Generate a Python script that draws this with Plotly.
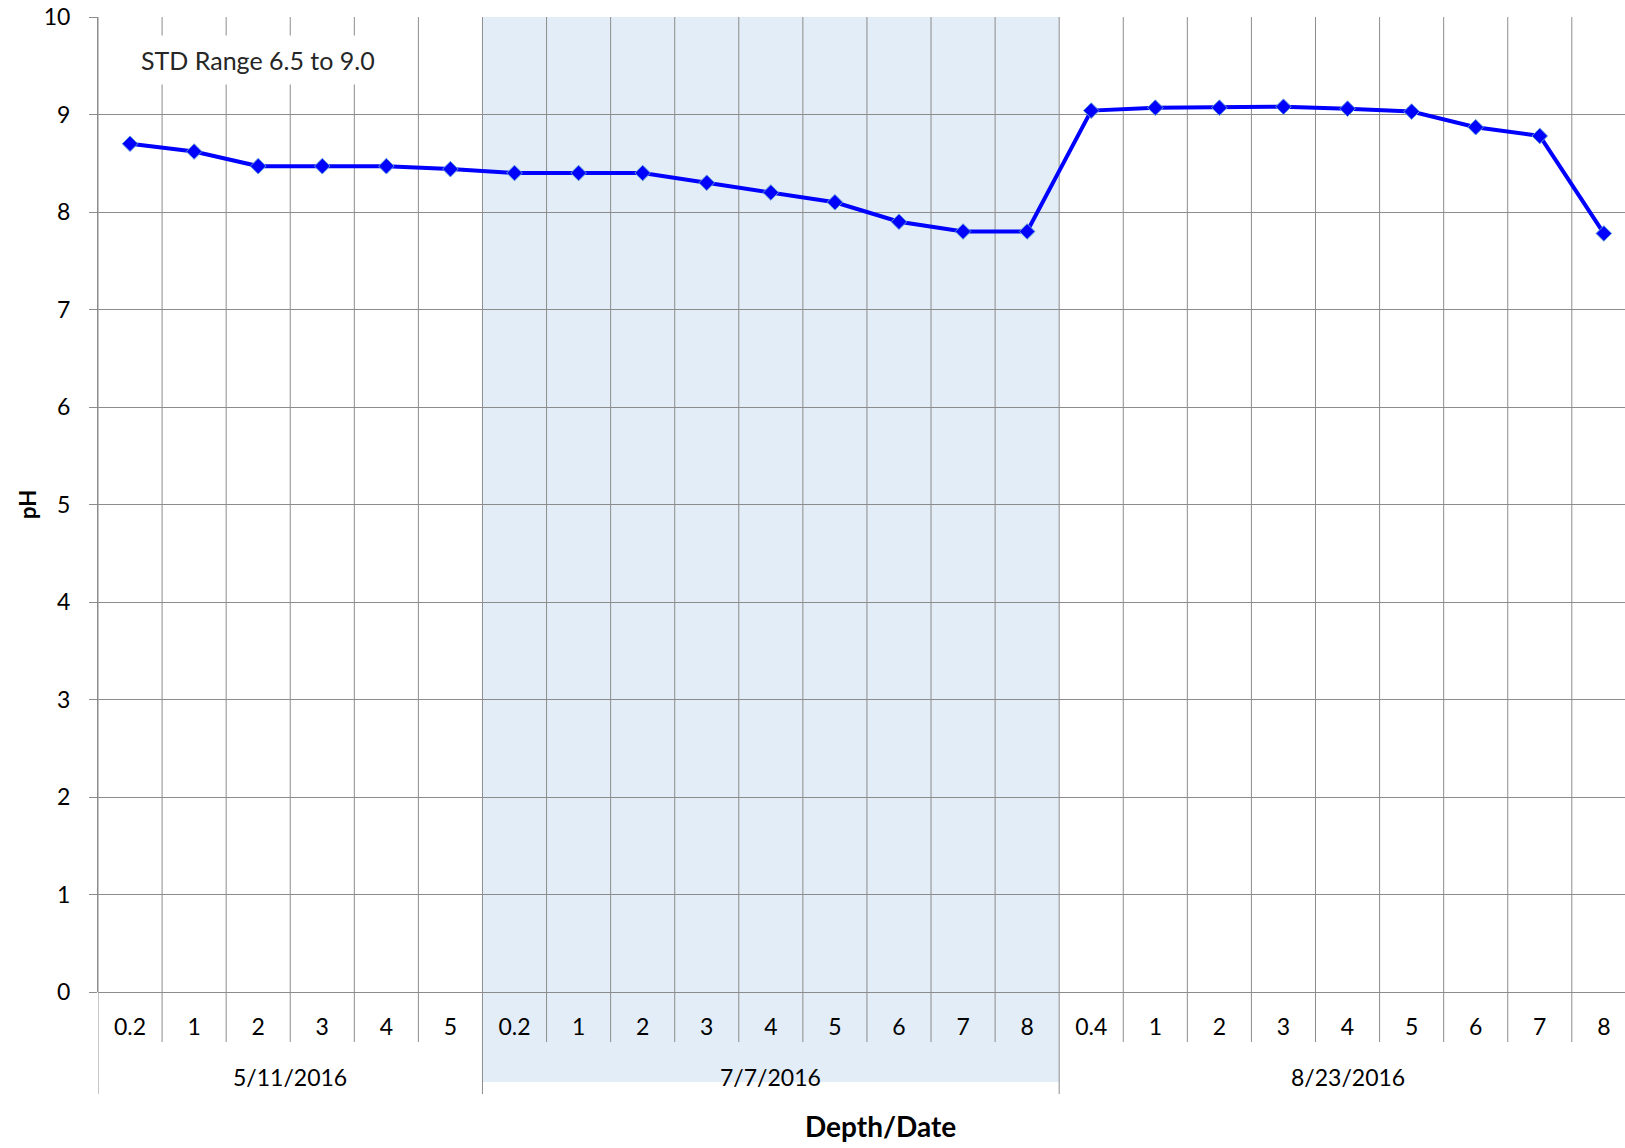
import plotly.graph_objects as go

# ---- data ----
dates = ["5/11/2016", "7/7/2016", "8/23/2016"]
depths_511 = ["0.2", "1", "2", "3", "4", "5"]
depths_77 = ["0.2", "1", "2", "3", "4", "5", "6", "7", "8"]
depths_823 = ["0.4", "1", "2", "3", "4", "5", "6", "7", "8"]
ph_511 = [8.70, 8.62, 8.47, 8.47, 8.47, 8.44]
ph_77 = [8.40, 8.40, 8.40, 8.30, 8.20, 8.10, 7.90, 7.80, 7.80]
ph_823 = [9.04, 9.07, 9.07, 9.08, 9.06, 9.03, 8.87, 8.78, 7.78]
y_ticks = list(range(0, 11))
std_label = "STD Range 6.5 to 9.0"

groups = [depths_511, depths_77, depths_823]
values = ph_511 + ph_77 + ph_823
labels = depths_511 + depths_77 + depths_823
xs = list(range(len(values)))

GRID = "#8c8c8c"
SHADE = "#e3edf7"
FONT = "Lato"

W, H = 1625, 1148
L, R, T, B = 98, 0, 17, 156
plot_h = H - T - B
plot_w = W - L - R

def py(px):
    """pixel offset below the plot bottom -> paper y"""
    return -px / plot_h

fig = go.Figure()
fig.add_trace(go.Scatter(
    x=xs, y=values, mode="lines+markers",
    line=dict(color="#0000ff", width=4),
    marker=dict(symbol="diamond", size=12, color="#0000ff",
                line=dict(color="#5b9bd5", width=1)),
    showlegend=False, hoverinfo="x+y",
))

shapes = []
starts = [0]
for g in groups:
    starts.append(starts[-1] + len(g))
# shaded middle group
shapes.append(dict(type="rect", xref="x", yref="paper",
                   x0=starts[1] - 0.5, x1=starts[2] - 0.5,
                   y0=py(90), y1=1, fillcolor=SHADE, line_width=0, layer="below"))
# vertical grid lines at each category boundary
for b in range(len(values) + 1):
    xb = b - 0.5
    is_group = b in starts
    shapes.append(dict(type="line", xref="x", yref="paper",
                       x0=xb, x1=xb, y0=py(102 if is_group else 50), y1=1,
                       line=dict(color=GRID, width=1), layer="below"))

annotations = []
for d, g, s in zip(dates, groups, starts):
    annotations.append(dict(text=d, xref="x", yref="paper",
                            x=s + (len(g) - 1) / 2, y=py(85), yanchor="middle",
                            showarrow=False, font=dict(family=FONT, size=23, color="#000")))
annotations.append(dict(text="<b>Depth/Date</b>", xref="paper", yref="paper",
                        x=(880 - L) / plot_w, y=py(134), xanchor="center", yanchor="middle",
                        showarrow=False, font=dict(family=FONT, size=28, color="#000")))
annotations.append(dict(text="<b>pH</b>", xref="paper", yref="paper",
                        x=(27 - L) / plot_w, y=(H - B - 505) / plot_h, textangle=-90,
                        xanchor="center", yanchor="middle",
                        showarrow=False, font=dict(family=FONT, size=22, color="#000")))
annotations.append(dict(text=std_label, xref="x", yref="y", x=2.0, y=9.56,
                        xanchor="center", yanchor="middle",
                        showarrow=False, bgcolor="white", borderpad=9,
                        font=dict(family=FONT, size=25, color="#262626")))

fig.update_layout(
    width=W, height=H,
    margin=dict(l=L, r=R, t=T, b=B, pad=0),
    paper_bgcolor="white", plot_bgcolor="white",
    shapes=shapes, annotations=annotations,
    xaxis=dict(range=[-0.5, 23.33],
               tickmode="array", tickvals=xs, ticktext=labels,
               showgrid=False, zeroline=False, showline=False, ticks="",
               ticklabelstandoff=19,
               tickfont=dict(family=FONT, size=23, color="#000")),
    yaxis=dict(range=[0, 10], tickmode="array", tickvals=y_ticks,
               showgrid=True, gridcolor=GRID, gridwidth=1,
               zeroline=True, zerolinecolor=GRID, zerolinewidth=1,
               showline=True, linecolor=GRID, linewidth=1,
               ticks="outside", ticklen=8, tickcolor=GRID,
               ticklabelstandoff=14,
               tickfont=dict(family=FONT, size=23, color="#000")),
)

fig.write_html("out.html")
